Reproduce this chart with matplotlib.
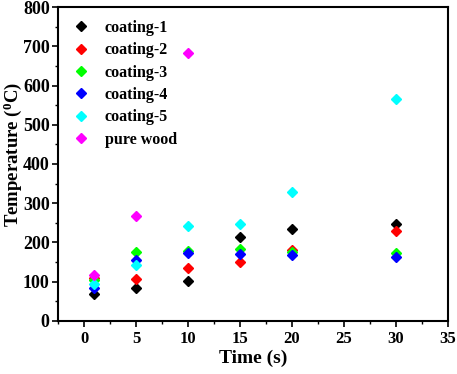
import matplotlib
matplotlib.use('Agg')
import matplotlib.pyplot as plt
from matplotlib.ticker import MultipleLocator

plt.rcParams['font.family'] = 'Liberation Serif'
plt.rcParams['font.weight'] = 'bold'
plt.rcParams['mathtext.fontset'] = 'custom'
plt.rcParams['mathtext.rm'] = 'Liberation Serif:bold'
plt.rcParams['mathtext.bf'] = 'Liberation Serif:bold'

time = [1, 5, 10, 15, 20, 30]
coating_1 = [68, 85, 102, 213, 235, 248]
coating_2 = [110, 106, 136, 149, 181, 230]
coating_3 = [105, 176, 179, 183, 176, 172]
coating_4 = [84, 154, 174, 171, 169, 163]
coating_5 = [94, 143, 243, 247, 328, 566]
pure_wood_time = [1, 5, 10]
pure_wood = [117, 268, 682]

series = [
    ('coating-1', time, coating_1, 'black'),
    ('coating-2', time, coating_2, 'red'),
    ('coating-3', time, coating_3, '#00ff00'),
    ('coating-4', time, coating_4, 'blue'),
    ('coating-5', time, coating_5, 'cyan'),
    ('pure wood', pure_wood_time, pure_wood, 'magenta'),
]

fig = plt.figure(figsize=(4.57, 3.74), dpi=100)
ax = fig.add_axes([0.127, 0.142, 0.853, 0.839])

for name, x, y, c in series:
    ax.plot(x, y, 'D', color=c, ms=5.5, label=name, linestyle='none')

ax.set_xlim(-2.5, 35)
ax.set_ylim(0, 800)
ax.xaxis.set_major_locator(MultipleLocator(5))
ax.xaxis.set_minor_locator(MultipleLocator(2.5))
ax.yaxis.set_major_locator(MultipleLocator(100))
ax.yaxis.set_minor_locator(MultipleLocator(50))
ax.tick_params(which='major', direction='out', length=4, width=1.2, labelsize=12, pad=3)
ax.tick_params(axis='y', which='major', labelsize=13, pad=2)
ax.tick_params(which='minor', direction='out', length=2.5, width=1.0)
for s in ax.spines.values():
    s.set_linewidth(1.5)

ax.set_xlabel('Time (s)', fontsize=14, fontweight='bold', labelpad=2)
ax.set_ylabel('Temperature ($\\mathregular{^{0}}$C)', fontsize=13.5, fontweight='bold')
ax.yaxis.set_label_coords(-0.087, 0.53)

ax.legend(loc='upper left', bbox_to_anchor=(-0.015, 1.0), frameon=False,
          fontsize=11.5, handletextpad=0.5, labelspacing=0.4,
          borderaxespad=0.4, markerscale=0.85)

fig.savefig('out.png', dpi=100)
